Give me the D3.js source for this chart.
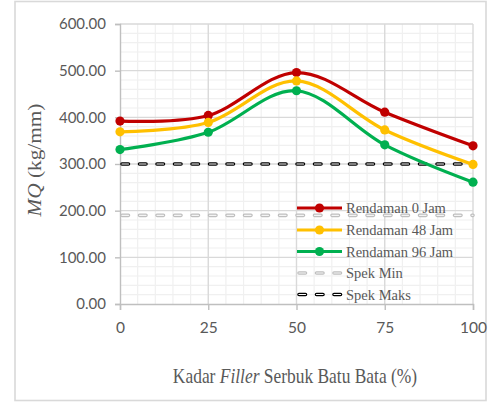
<!DOCTYPE html>
<html>
<head>
<meta charset="utf-8">
<script src="https://cdn.jsdelivr.net/npm/d3@7"></script>
<style>
  html, body { margin: 0; padding: 0; background: #fff; }
  svg { display: block; }
</style>
</head>
<body>
<svg id="chart" width="490" height="403"></svg>
<script>
// Filler content (%) on the x axis
const kadarFiller = [0, 25, 50, 75, 100];

// Marshall Quotient values per soaking duration
const rendaman0 = [392, 404, 496, 411, 339];
const rendaman48 = [369, 389, 478, 373, 299];
const rendaman96 = [331, 368, 457, 341, 261];

// Specification limits
const spekMin = 190;
const spekMaks = 300;

// Axis ticks
const yTicks = [0, 100, 200, 300, 400, 500, 600];
const xTicks = [0, 25, 50, 75, 100];

const seriesNames = ["Rendaman 0 Jam", "Rendaman 48 Jam", "Rendaman 96 Jam"];
const seriesColors = ["#C00000", "#FFC000", "#00B050"];
const seriesValues = [rendaman0, rendaman48, rendaman96];

const svg = d3.select("#chart");
const x = d3.scaleLinear().domain([0, 100]).range([120, 473]);
const y = d3.scaleLinear().domain([0, 600]).range([304, 24]);

const labelGray = "#595959";

// chart frame
svg.append("rect")
  .attr("x", 15).attr("y", 1.5)
  .attr("width", 471).attr("height", 399)
  .attr("fill", "#fff")
  .attr("stroke", "#D9D9D9").attr("stroke-width", 1.6);

// minor gridlines
const grid = svg.append("g");
grid.selectAll("line.hminor")
  .data(d3.range(0, 601, 20).filter(v => v % 100 !== 0))
  .join("line")
  .attr("x1", x(0)).attr("x2", x(100))
  .attr("y1", d => y(d)).attr("y2", d => y(d))
  .attr("stroke", "#F0F0F0").attr("stroke-width", 1.2);
grid.selectAll("line.vminor")
  .data(d3.range(0, 101, 5).filter(v => v % 25 !== 0))
  .join("line")
  .attr("y1", y(0)).attr("y2", y(600))
  .attr("x1", d => x(d)).attr("x2", d => x(d))
  .attr("stroke", "#F0F0F0").attr("stroke-width", 1.2);

// major gridlines
grid.selectAll("line.hmajor")
  .data(yTicks.filter(v => v > 0))
  .join("line")
  .attr("x1", x(0)).attr("x2", x(100))
  .attr("y1", d => y(d)).attr("y2", d => y(d))
  .attr("stroke", "#D9D9D9").attr("stroke-width", 1.4);
grid.selectAll("line.vmajor")
  .data(xTicks.filter(v => v > 0))
  .join("line")
  .attr("y1", y(0)).attr("y2", y(600))
  .attr("x1", d => x(d)).attr("x2", d => x(d))
  .attr("stroke", "#D9D9D9").attr("stroke-width", 1.4);

// y axis
const yAxis = d3.axisLeft(y).tickValues(yTicks).tickSize(5).tickPadding(9)
  .tickFormat(d3.format(".2f"));
const gy = svg.append("g").attr("transform", `translate(${x(0)},0)`).call(yAxis);
gy.select(".domain").attr("stroke", "#BFBFBF").attr("stroke-width", 1.4);
gy.selectAll(".tick line").attr("stroke", "#BFBFBF").attr("stroke-width", 1.4);
gy.selectAll(".tick text")
  .attr("fill", labelGray)
  .style("font-family", "Lato, 'Open Sans', sans-serif")
  .style("font-size", "15px");

// x axis
const xAxis = d3.axisBottom(x).tickValues(xTicks).tickSize(6).tickPadding(12)
  .tickFormat(d3.format("d"));
const gx = svg.append("g").attr("transform", `translate(0,${y(0)})`).call(xAxis);
gx.select(".domain").attr("stroke", "#BFBFBF").attr("stroke-width", 1.4);
gx.selectAll(".tick line").attr("stroke", "#BFBFBF").attr("stroke-width", 1.4);
gx.selectAll(".tick text")
  .attr("fill", labelGray)
  .style("font-family", "Lato, 'Open Sans', sans-serif")
  .style("font-size", "15.5px");

// compound dashed line: dark outline with a pale core
function outlinedDash(g, x1, x2, yy, outer, inner) {
  g.append("line")
    .attr("x1", x1).attr("x2", x2).attr("y1", yy).attr("y2", yy)
    .attr("stroke", outer).attr("stroke-width", 3.6)
    .attr("stroke-linecap", "round")
    .attr("stroke-dasharray", "6.5,11")
    .attr("stroke-dashoffset", -2);
  g.append("line")
    .attr("x1", x1).attr("x2", x2).attr("y1", yy).attr("y2", yy)
    .attr("stroke", inner).attr("stroke-width", 1.2)
    .attr("stroke-linecap", "round")
    .attr("stroke-dasharray", "6.5,11")
    .attr("stroke-dashoffset", -2);
}

const specs = svg.append("g");
outlinedDash(specs, x(0), x(100), y(spekMin), "#BFBFBF", "#F4F4F4");
outlinedDash(specs, x(0), x(100), y(spekMaks), "#000000", "#FFFFFF");

// data series
const line = d3.line()
  .x((d, i) => x(kadarFiller[i]))
  .y(d => y(d))
  .curve(d3.curveCardinal.tension(0));

seriesValues.forEach((vals, k) => {
  const g = svg.append("g");
  g.append("path")
    .attr("d", line(vals))
    .attr("fill", "none")
    .attr("stroke", seriesColors[k])
    .attr("stroke-width", 3.2)
    .attr("stroke-linejoin", "round");
  g.selectAll("circle")
    .data(vals)
    .join("circle")
    .attr("cx", (d, i) => x(kadarFiller[i]))
    .attr("cy", d => y(d))
    .attr("r", 4.6)
    .attr("fill", seriesColors[k]);
});

// legend
const legend = svg.append("g");
const legendRows = [208, 230, 251.5, 273, 294.5];
const serif = "'Liberation Serif', 'Times New Roman', serif";
seriesNames.forEach((name, k) => {
  const ly = legendRows[k];
  legend.append("line")
    .attr("x1", 297).attr("x2", 342).attr("y1", ly).attr("y2", ly)
    .attr("stroke", seriesColors[k]).attr("stroke-width", 3.2);
  legend.append("circle")
    .attr("cx", 319.5).attr("cy", ly).attr("r", 4.6)
    .attr("fill", seriesColors[k]);
  legend.append("text")
    .attr("x", 346).attr("y", ly + 5)
    .attr("fill", labelGray)
    .style("font-family", serif).style("font-size", "14.5px")
    .text(name);
});
outlinedDash(legend, 297, 342, legendRows[3], "#BFBFBF", "#F4F4F4");
outlinedDash(legend, 297, 342, legendRows[4], "#000000", "#FFFFFF");
["Spek Min", "Spek Maks"].forEach((name, k) => {
  legend.append("text")
    .attr("x", 346).attr("y", legendRows[3 + k] + 5)
    .attr("fill", labelGray)
    .style("font-family", serif).style("font-size", "14.5px")
    .text(name);
});

// y axis title
const yTitle = svg.append("text")
  .attr("transform", "translate(41,160) rotate(-90) scale(1.15,1)")
  .attr("text-anchor", "middle")
  .attr("fill", labelGray)
  .style("font-family", serif).style("font-size", "18.5px");
yTitle.append("tspan").style("font-style", "italic").text("MQ");
yTitle.append("tspan").text(" (kg/mm)");

// x axis title
const xTitle = svg.append("text")
  .attr("transform", "translate(295,383) scale(0.85,1)")
  .attr("text-anchor", "middle")
  .attr("fill", labelGray)
  .style("font-family", serif).style("font-size", "20.5px");
xTitle.append("tspan").text("Kadar ");
xTitle.append("tspan").style("font-style", "italic").text("Filler");
xTitle.append("tspan").text(" Serbuk Batu Bata (%)");
</script>
</body>
</html>
